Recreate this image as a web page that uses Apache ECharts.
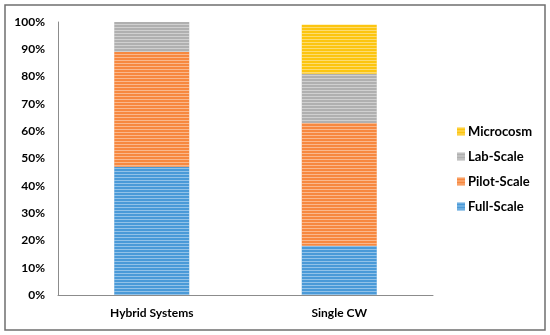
<!DOCTYPE html>
<html><head><meta charset="utf-8">
<script src="https://cdn.jsdelivr.net/npm/echarts@6/dist/echarts.min.js"></script>
<style>html,body{margin:0;padding:0;background:#fff}#c{width:550px;height:335px}</style>
</head><body><div id="c"></div>
<script>
const categories = ['Hybrid Systems', 'Single CW'];
const fullScale = [47, 18];
const pilotScale = [42, 45];
const labScale = [11, 18];
const microcosm = [0, 18];
const yTicks = [0, 10, 20, 30, 40, 50, 60, 70, 80, 90, 100];

const font = 'Lato, "Open Sans", sans-serif';
function stripe() {
  return { symbol: 'rect', symbolSize: 1, dashArrayX: [1, 0], dashArrayY: [1, 2], color: 'rgba(255,255,255,0.4)', rotation: 0 };
}
function s(name, data, color) {
  return { name, type: 'bar', stack: 'a', data, barWidth: '40%',
    itemStyle: { color, decal: stripe() } };
}
const chart = echarts.init(document.getElementById('c'));
chart.setOption({
  animation: false,
  aria: { enabled: true, decal: { show: true } },
  grid: { left: 58, right: 117, top: 22, bottom: 40 },
  graphic: [{ type: 'rect', shape: { x: 5, y: 5, width: 540, height: 325 }, style: { fill: 'none', stroke: '#6f6f6f', lineWidth: 1.5 }, silent: true }],
  legend: {
    data: ['Microcosm', 'Lab-Scale', 'Pilot-Scale', 'Full-Scale'],
    orient: 'vertical', left: 452, top: 120, itemGap: 12,
    itemWidth: 8, itemHeight: 8, icon: 'rect',
    textStyle: { fontFamily: font, fontWeight: 'bold', fontSize: 13, color: '#000', padding: [0, 0, 0, -2] }
  },
  xAxis: { type: 'category', data: categories,
    axisLine: { lineStyle: { color: '#8c8c8c', width: 1 } }, axisTick: { show: false },
    axisLabel: { fontFamily: font, fontWeight: 'bold', fontSize: 12, color: '#000', margin: 12 } },
  yAxis: { type: 'value', min: 0, max: 100, interval: 10,
    axisLine: { show: true, lineStyle: { color: '#8c8c8c', width: 1 } }, axisTick: { show: false },
    splitLine: { show: false },
    axisLabel: { fontFamily: font, fontWeight: 'bold', fontSize: 12, color: '#000', margin: 13,
      formatter: v => yTicks.includes(v) ? v + '%' : '' } },
  series: [
    s('Full-Scale', fullScale, '#4a9ad8'),
    s('Pilot-Scale', pilotScale, '#f7883f'),
    s('Lab-Scale', labScale, '#b0b0b0'),
    s('Microcosm', microcosm, '#fcc510')
  ]
});
</script></body></html>
